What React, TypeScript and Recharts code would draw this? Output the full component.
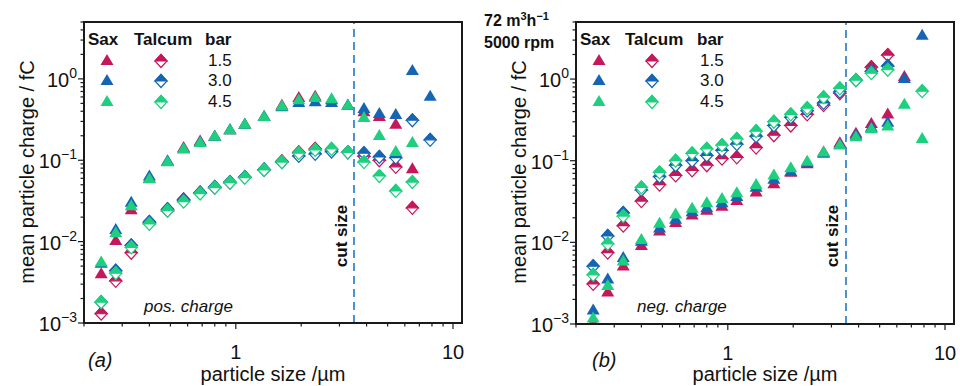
import { ScatterChart, Scatter, XAxis, YAxis, ReferenceLine } from "recharts";

// particle size classes (µm)
const SIZES = [0.24, 0.28, 0.33, 0.40, 0.485, 0.575, 0.685, 0.80, 0.94, 1.10, 1.35, 1.63, 1.95, 2.32, 2.76, 3.28, 3.89, 4.58, 5.45, 6.5, 7.85];

// (a) positive charge, fC
const SAX_POS_15 = [0.0041, 0.0105, 0.025, 0.061, 0.098, 0.145, 0.175, 0.2, 0.24, 0.28, 0.35, 0.48, 0.6, 0.62, 0.56, 0.48, 0.40, 0.35, 0.28, 0.08, null];
const SAX_POS_30 = [0.0055, 0.0143, 0.031, 0.065, 0.1, 0.14, 0.17, 0.2, 0.24, 0.28, 0.35, 0.46, 0.52, 0.53, 0.52, 0.48, 0.44, 0.38, 0.37, 1.29, 0.62];
const SAX_POS_45 = [0.0057, 0.013, 0.028, 0.06, 0.097, 0.14, 0.168, 0.2, 0.24, 0.28, 0.35, 0.47, 0.56, 0.6, 0.58, 0.48, 0.34, 0.205, 0.13, 0.168, null];
const TALC_POS_15 = [0.0013, 0.0033, 0.0073, 0.017, 0.024, 0.033, 0.04, 0.046, 0.053, 0.062, 0.076, 0.097, 0.125, 0.138, 0.135, 0.125, 0.112, 0.1, 0.083, 0.026, null];
const TALC_POS_30 = [0.0018, 0.0044, 0.009, 0.0175, 0.025, 0.032, 0.04, 0.047, 0.054, 0.062, 0.077, 0.095, 0.113, 0.12, 0.128, 0.125, 0.122, 0.11, 0.108, 0.31, 0.178];
const TALC_POS_45 = [0.0018, 0.0041, 0.0085, 0.0165, 0.024, 0.031, 0.039, 0.046, 0.053, 0.061, 0.076, 0.095, 0.122, 0.134, 0.138, 0.125, 0.095, 0.064, 0.042, 0.054, null];

// (b) negative charge, fC
const SAX_NEG_15 = [0.00105, 0.0025, 0.0052, 0.0093, 0.014, 0.0177, 0.022, 0.025, 0.028, 0.033, 0.042, 0.053, 0.073, 0.093, 0.13, 0.168, 0.22, 0.29, 0.38, 1.09, null];
const SAX_NEG_30 = [0.0015, 0.0036, 0.0066, 0.0105, 0.0152, 0.0195, 0.024, 0.027, 0.031, 0.037, 0.048, 0.06, 0.075, 0.097, 0.125, 0.16, 0.21, 0.26, 0.3, 1.03, 3.5];
const SAX_NEG_45 = [0.0012, 0.003, 0.006, 0.011, 0.0174, 0.0225, 0.0265, 0.031, 0.035, 0.041, 0.052, 0.068, 0.083, 0.1, 0.13, 0.158, 0.2, 0.25, 0.27, 0.5, 0.19];
const TALC_NEG_15 = [0.0031, 0.0075, 0.016, 0.032, 0.051, 0.066, 0.076, 0.088, 0.106, 0.11, 0.145, 0.205, 0.27, 0.37, 0.48, 0.67, 0.97, 1.4, 1.97, null, null];
const TALC_NEG_30 = [0.0051, 0.012, 0.023, 0.044, 0.064, 0.088, 0.1, 0.116, 0.134, 0.16, 0.2, 0.27, 0.34, 0.41, 0.51, 0.7, 0.97, 1.25, 1.45, null, null];
const TALC_NEG_45 = [0.004, 0.0096, 0.021, 0.047, 0.072, 0.1, 0.123, 0.14, 0.155, 0.185, 0.23, 0.3, 0.37, 0.44, 0.6, 0.77, 0.97, 1.18, 1.3, null, 0.71];

const PRESSURES = ["1.5", "3.0", "4.5"];
const CUT_SIZE = 3.5;
const X_DOMAIN = [0.2, 11];
const Y_DOMAIN = [0.001, 5];
const X_TICKS = [0.2, 0.3, 0.4, 0.5, 0.6, 0.7, 0.8, 0.9, 1, 2, 3, 4, 5, 6, 7, 8, 9, 10];
const Y_TICKS = [
    0.001, 0.002, 0.003, 0.004, 0.005, 0.006, 0.007, 0.008, 0.009,
    0.01, 0.02, 0.03, 0.04, 0.05, 0.06, 0.07, 0.08, 0.09,
    0.1, 0.2, 0.3, 0.4, 0.5, 0.6, 0.7, 0.8, 0.9,
    1, 2, 3, 4, 5,
];

const COLORS = ["#c4175c", "#1565b3", "#1ecf7f"];
const FONT = '"Liberation Sans", Arial, sans-serif';
const AXIS = "#1a1a1a";
const TOP = 22;

const pts = (vals: (number | null)[]) =>
    SIZES.map((x, i) => ({ x, y: vals[i] })).filter((p) => p.y != null);

const isDecade = (v: number) => Math.abs(Math.log10(v) - Math.round(Math.log10(v))) < 1e-6;

const Tri = ({ cx, cy, fill }: any) => (
    <polygon points={`${cx},${cy - 6} ${cx - 6.5},${cy + 5} ${cx + 6.5},${cy + 5}`} fill={fill} />
);

const Dia = ({ cx, cy, fill }: any) => (
    <g>
        <polygon points={`${cx},${cy - 6.5} ${cx + 6},${cy} ${cx},${cy + 6.5} ${cx - 6},${cy}`}
            fill="#fff" stroke={fill} strokeWidth={1.2} />
        <polygon points={`${cx - 6},${cy} ${cx},${cy - 6.5} ${cx + 6},${cy}`} fill={fill} stroke={fill} strokeWidth={1.2} />
    </g>
);

const XTick = ({ x, y, payload }: any) => {
    const v = payload.value;
    const major = isDecade(v);
    return (
        <g>
            <line x1={x} x2={x} y1={y} y2={y + (major ? 6 : 3.5)} stroke={AXIS} strokeWidth={1.2} />
            {major && (
                <text x={x} y={y + 36} textAnchor="middle" fontSize={20} fontFamily={FONT} fill="#111">{v}</text>
            )}
        </g>
    );
};

const YTick = ({ x, y, payload }: any) => {
    const v = payload.value;
    const major = isDecade(v);
    const e = Math.round(Math.log10(v));
    return (
        <g>
            <line x1={x} x2={x - (major ? 6 : 3.5)} y1={y} y2={y} stroke={AXIS} strokeWidth={1.2} />
            {major && (
                <text x={x - 7} y={y + 8} textAnchor="end" fontSize={20} fontFamily={FONT} fill="#111">
                    10<tspan dy={-9} fontSize={14}>{e === 0 ? "0" : "\u2212" + -e}</tspan>
                </text>
            )}
        </g>
    );
};

interface PanelProps {
    sax: (number | null)[][];
    talc: (number | null)[][];
    yWidth: number;
    right: number;
    xHeight: number;
    tag: string;
    note: string;
    titleX: number;
    xTitleX: number;
    cutX: number;
    legendX: number[];
    header?: boolean;
}

const Panel = ({ sax, talc, yWidth, right, xHeight, tag, note, titleX, xTitleX, cutX, legendX, header }: PanelProps) => {
    const [sx, tx, bx] = legendX;
    const rows = [60, 80, 101];
    const plotL = yWidth;
    const plotR = 480 - right;
    const plotB = 386 - xHeight;
    return (
        <div style={{ position: "relative", width: 480, height: 386 }}>
            <ScatterChart width={480} height={386} margin={{ top: TOP, right, bottom: 0, left: 0 }}>
                <XAxis dataKey="x" type="number" scale="log" domain={X_DOMAIN} allowDataOverflow ticks={X_TICKS}
                    interval={0} height={xHeight} tickSize={0} tickMargin={0} tickLine={false}
                    axisLine={false} tick={<XTick />} />
                <YAxis dataKey="y" type="number" scale="log" domain={Y_DOMAIN} allowDataOverflow ticks={Y_TICKS}
                    interval={0} width={yWidth} tickSize={0} tickMargin={0} tickLine={false}
                    axisLine={false} tick={<YTick />} />
                <ReferenceLine x={CUT_SIZE} stroke="#1f78c8" strokeWidth={1.6} strokeDasharray="8 5" />
                {talc.map((vals, i) => (
                    <Scatter key={"t" + i} data={pts(vals)} isAnimationActive={false}
                        shape={(p: any) => <Dia cx={p.cx} cy={p.cy} fill={COLORS[i]} />} />
                ))}
                {sax.map((vals, i) => (
                    <Scatter key={"s" + i} data={pts(vals)} isAnimationActive={false}
                        shape={(p: any) => <Tri cx={p.cx} cy={p.cy} fill={COLORS[i]} />} />
                ))}
            </ScatterChart>
            <svg width={480} height={386} style={{ position: "absolute", left: 0, top: 0, pointerEvents: "none" }}
                fontFamily={FONT}>
                {/* plot frame, all four sides */}
                <path d={`M${plotL},${TOP} H${plotR} V${plotB} H${plotL} Z`} fill="none" stroke={AXIS} strokeWidth={2} />
                <g fill="#111">
                    <text transform={`translate(${titleX},172) rotate(-90)`} textAnchor="middle" fontSize={20}>
                        mean particle charge / fC
                    </text>
                    <text x={xTitleX} y={381} textAnchor="middle" fontSize={20}>particle size /µm</text>
                    <text x={tag === "(a)" ? 88 : 112} y={367} fontSize={20} fontStyle="italic">{tag}</text>
                    <text x={tag === "(a)" ? 144 : 157} y={312} fontSize={17} fontStyle="italic">{note}</text>
                    <text transform={`translate(${cutX},236) rotate(-90)`} textAnchor="middle" fontSize={17} fontWeight="bold">
                        cut size
                    </text>
                    <text x={sx - 19} y={45} fontSize={17} fontWeight="bold">Sax</text>
                    <text x={tx - 27} y={45} fontSize={17} fontWeight="bold">Talcum</text>
                    <text x={bx - 3} y={45} fontSize={17} fontWeight="bold">bar</text>
                    {rows.map((ry, i) => (
                        <g key={i}>
                            <Tri cx={sx} cy={ry} fill={COLORS[i]} />
                            <Dia cx={tx} cy={ry + 1} fill={COLORS[i]} />
                            <text x={bx} y={ry + 6} fontSize={17}>{PRESSURES[i]}</text>
                        </g>
                    ))}
                    {header && (
                        <g fontWeight="bold" fontSize={16}>
                            <text x={4} y={26}>72 m<tspan dy={-6} fontSize={11}>3</tspan><tspan dy={6}>h</tspan><tspan dy={-6} fontSize={11}>{"\u22121"}</tspan></text>
                            <text x={4} y={48}>5000 rpm</text>
                        </g>
                    )}
                </g>
            </svg>
        </div>
    );
};

export default function App() {
    return (
        <div style={{ position: "absolute", left: 0, top: 0, width: 960, height: 386, background: "#fff", display: "flex" }}>
            <Panel sax={[SAX_POS_15, SAX_POS_30, SAX_POS_45]} talc={[TALC_POS_15, TALC_POS_30, TALC_POS_45]}
                yWidth={84} right={18} xHeight={63} tag="(a)" note="pos. charge" titleX={34} xTitleX={273} cutX={347}
                legendX={[107, 161, 208]} />
            <Panel sax={[SAX_NEG_15, SAX_NEG_30, SAX_NEG_45]} talc={[TALC_NEG_15, TALC_NEG_30, TALC_NEG_45]}
                yWidth={96} right={6} xHeight={62} tag="(b)" note="neg. charge" titleX={46} xTitleX={285} cutX={358}
                legendX={[119, 172, 220]} header />
        </div>
    );
}
